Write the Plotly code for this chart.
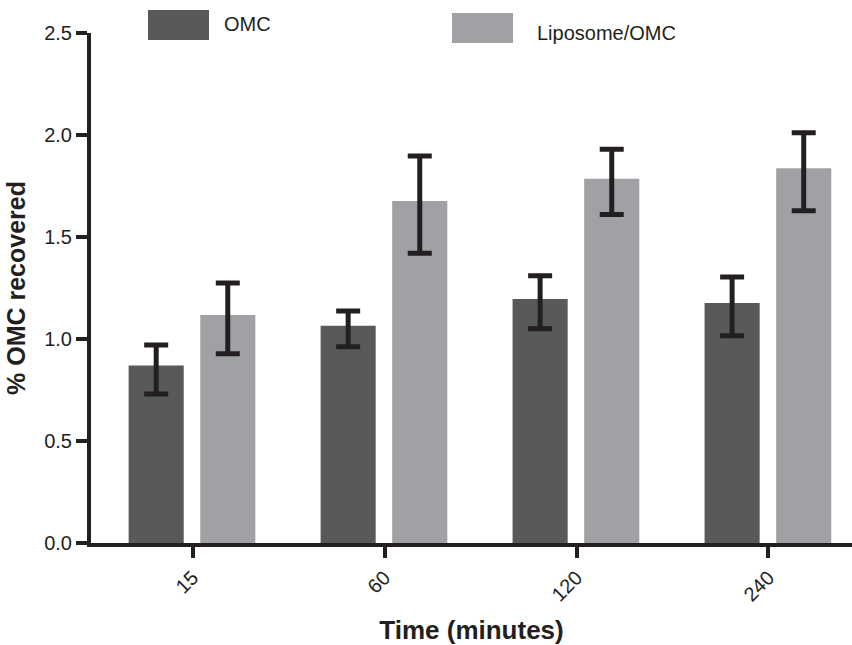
import plotly.graph_objects as go

categories = ["15", "60", "120", "240"]
omc = [0.87, 1.065, 1.196, 1.176]
omc_err_up = [0.10, 0.072, 0.114, 0.128]
omc_err_down = [0.14, 0.103, 0.146, 0.16]
lipo = [1.118, 1.676, 1.786, 1.837]
lipo_err_up = [0.157, 0.221, 0.144, 0.174]
lipo_err_down = [0.19, 0.256, 0.176, 0.208]
y_ticks = [0.0, 0.5, 1.0, 1.5, 2.0, 2.5]
series_names = ["OMC", "Liposome/OMC"]

C_OMC = "#58595b"
C_LIPO = "#a0a1a5"
C_ERR = "#231f20"
FONT = "Liberation Sans, Arial, sans-serif"

x_idx = list(range(len(categories)))

fig = go.Figure()
fig.add_trace(go.Bar(
    x=x_idx, y=omc, name=series_names[0], marker_color=C_OMC,
    marker_line_width=0, width=0.287, offset=-0.333,
    error_y=dict(type="data", symmetric=False, array=omc_err_up, arrayminus=omc_err_down,
                 color=C_ERR, thickness=5, width=12),
    showlegend=False,
))
fig.add_trace(go.Bar(
    x=x_idx, y=lipo, name=series_names[1], marker_color=C_LIPO,
    marker_line_width=0, width=0.287, offset=0.04,
    error_y=dict(type="data", symmetric=False, array=lipo_err_up, arrayminus=lipo_err_down,
                 color=C_ERR, thickness=5, width=12),
    showlegend=False,
))

W, H = 852, 645
L, R_EDGE, TOP, BOT = 91, 852, 33, 543

# legend drawn as large swatches + text, as in the original
legend_items = [(148, 10, C_OMC, 222, 24, series_names[0]),
                (452, 13, C_LIPO, 535, 33, series_names[1])]
shapes, annotations = [], []
for (bx, by, col, tx, ty, txt) in legend_items:
    shapes.append(dict(type="rect", xref="paper", yref="paper",
                       x0=(bx - L) / (R_EDGE - L), x1=(bx + 61 - L) / (R_EDGE - L),
                       y0=(BOT - (by + 30)) / (BOT - TOP), y1=(BOT - by) / (BOT - TOP),
                       fillcolor=col, line_width=0, layer="above"))
    annotations.append(dict(xref="paper", yref="paper", x=(tx - L) / (R_EDGE - L),
                            y=(BOT - ty) / (BOT - TOP), text=txt, showarrow=False,
                            xanchor="left", yanchor="middle",
                            font=dict(family=FONT, size=20, color="#231f20")))

fig.update_layout(
    width=W, height=H,
    margin=dict(l=L, r=W - R_EDGE, t=TOP, b=H - BOT, pad=0),
    paper_bgcolor="white", plot_bgcolor="white",
    font=dict(family=FONT, color="#231f20"),
    shapes=shapes, annotations=annotations,
    xaxis=dict(
        tickmode="array", tickvals=x_idx, ticktext=categories,
        range=[-0.529, 3.435], showgrid=False, zeroline=False,
        showline=True, linecolor="#231f20", linewidth=4,
        ticks="outside", ticklen=11, tickwidth=4, tickcolor="#231f20",
        tickangle=-45, tickfont=dict(size=20, family=FONT),
        title=dict(text="<b>Time (minutes)</b>", font=dict(size=26, family=FONT), standoff=17),
    ),
    yaxis=dict(
        range=[0, 2.5], tickvals=y_ticks, tickformat=".1f",
        showgrid=False, zeroline=False,
        showline=True, linecolor="#231f20", linewidth=4,
        ticks="outside", ticklen=11, tickwidth=4, tickcolor="#231f20",
        tickfont=dict(size=20, family=FONT),
        title=dict(text="<b>% OMC recovered</b>", font=dict(size=25, family=FONT), standoff=12),
    ),
)

fig.write_html("out.html")
